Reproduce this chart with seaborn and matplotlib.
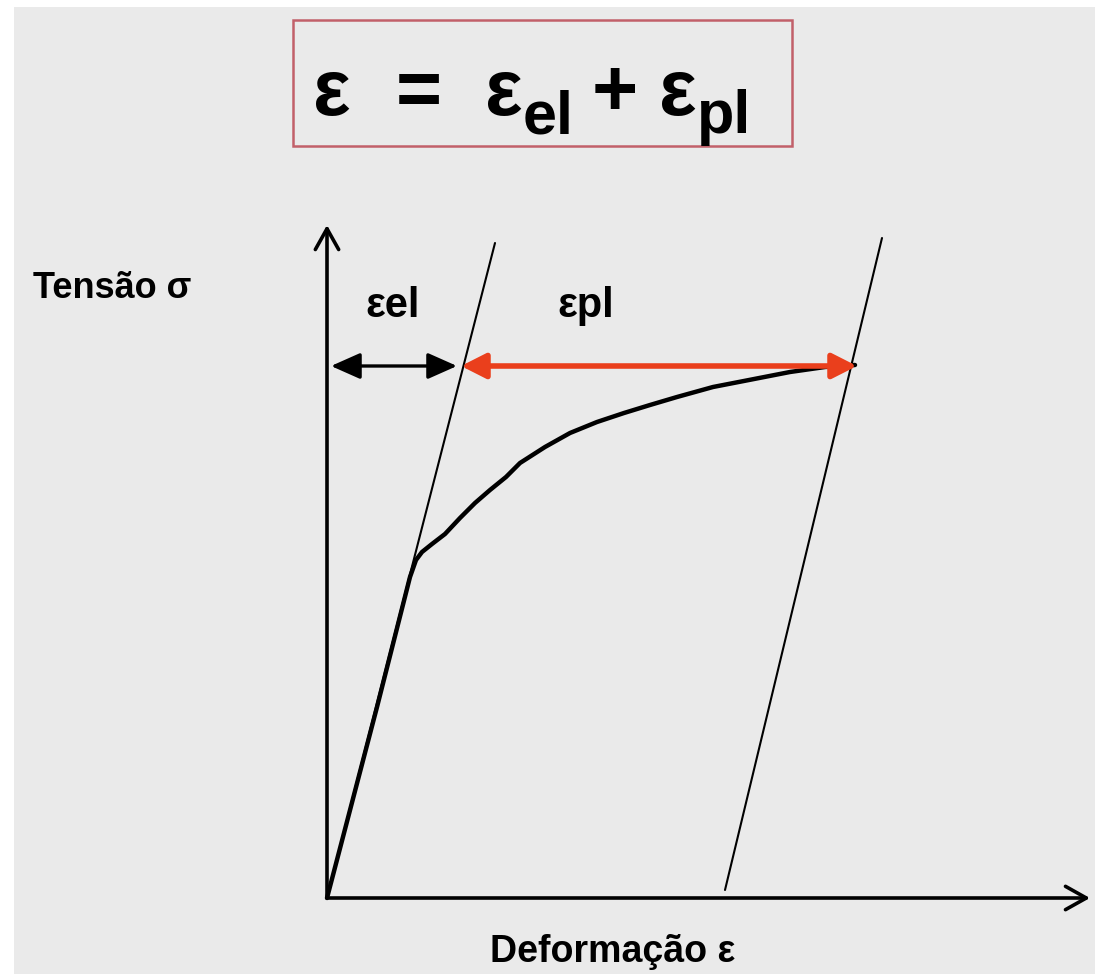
import numpy as np
import pandas as pd
import matplotlib
matplotlib.use("Agg")
import matplotlib.pyplot as plt
import seaborn as sns
from matplotlib.patches import Rectangle

# ---- data (strain / stress, arbitrary units) ----
strain_curve = [0.0, 0.50, 0.83, 0.89, 0.95, 1.05, 1.18, 1.33, 1.48, 1.63,
                1.79, 1.93, 2.18, 2.43, 2.70, 2.97, 3.23, 3.50, 3.86, 4.22,
                4.63, 4.98, 5.28]
stress_curve = [0.0, 1.91, 3.21, 3.38, 3.46, 3.54, 3.64, 3.80, 3.95, 4.08,
                4.21, 4.35, 4.51, 4.65, 4.76, 4.85, 4.93, 5.01, 5.11, 5.18,
                5.26, 5.31, 5.33]
elastic_strain = [0.0, 1.68]
elastic_stress = [0.0, 6.55]
unload_strain = [3.98, 5.55]
unload_stress = [0.08, 6.60]
sigma_level = 5.32
eps_el_span = [0.04, 1.30]
eps_pl_span = [1.34, 5.30]
x_axis_end = 7.63
y_axis_end = 6.73

ylabel_text = "Tensão σ"
xlabel_text = "Deformação ε"
el_label = "εel"
pl_label = "εpl"

sns.set_theme(style="white")
SANS = ["Liberation Sans", "DejaVu Sans"]
plt.rcParams["font.family"] = SANS
plt.rcParams["text.color"] = "black"

W, H = 1095, 974
BG = "#eaeaea"
fig = plt.figure(figsize=(W / 100, H / 100), dpi=100, facecolor="white")
ax = fig.add_axes([14 / W, 0, 1081 / W, 967 / H])
ax.set_facecolor(BG)
ax.set_xlim(-3.13, 7.68)
ax.set_ylim(-0.76, 8.91)
for s in ax.spines.values():
    s.set_visible(False)
ax.set_xticks([])
ax.set_yticks([])
ax.set_xlabel("")
ax.set_ylabel("")


def fx(px):
    return px / W


def fy(py):
    return 1 - py / H


# axes arrows
ax.annotate("", xy=(0, y_axis_end), xytext=(0, 0),
            arrowprops=dict(arrowstyle="->,head_length=0.75,head_width=0.42",
                            lw=2.6, color="black", shrinkA=0, shrinkB=0,
                            mutation_scale=20))
ax.annotate("", xy=(x_axis_end, 0), xytext=(0, 0),
            arrowprops=dict(arrowstyle="->,head_length=0.75,head_width=0.42",
                            lw=2.6, color="black", shrinkA=0, shrinkB=0,
                            mutation_scale=20))

# thin elastic lines
sns.lineplot(x=elastic_strain, y=elastic_stress, ax=ax, color="black",
             lw=1.5, estimator=None, sort=False)
sns.lineplot(x=unload_strain, y=unload_stress, ax=ax, color="black",
             lw=1.5, estimator=None, sort=False)

# stress-strain curve
curve = pd.DataFrame({"strain": strain_curve, "stress": stress_curve})
sns.lineplot(data=curve, x="strain", y="stress", ax=ax, color="black",
             lw=3.2, estimator=None, sort=False,
             solid_joinstyle="round", solid_capstyle="round")

# double arrows
ax.annotate("", xy=(eps_el_span[1], sigma_level), xytext=(eps_el_span[0], sigma_level),
            arrowprops=dict(arrowstyle="<|-|>,head_length=0.9,head_width=0.4",
                            lw=2.4, color="black", shrinkA=0, shrinkB=0,
                            mutation_scale=20))
ax.annotate("", xy=(eps_pl_span[1], sigma_level), xytext=(eps_pl_span[0], sigma_level),
            arrowprops=dict(arrowstyle="<|-|>,head_length=0.75,head_width=0.38",
                            lw=4.0, color="#ea3f1c", shrinkA=0, shrinkB=0,
                            mutation_scale=20))

# labels
fig.text(fx(33), fy(298), ylabel_text, family=SANS, weight="bold",
         fontsize=26, ha="left", va="baseline", color="black")
fig.text(fx(490), fy(962), xlabel_text, family=SANS, weight="bold",
         fontsize=27, ha="left", va="baseline", color="black")
fig.text(fx(365), fy(317), el_label, family=SANS, weight="bold",
         fontsize=30, ha="left", va="baseline", color="black")
fig.text(fx(557), fy(317), pl_label, family=SANS, weight="bold",
         fontsize=30, ha="left", va="baseline", color="black")

# formula box
box = Rectangle((fx(293), fy(146)), (792 - 293) / W, (146 - 20) / H,
                transform=fig.transFigure, facecolor="none",
                edgecolor="#c2606a", lw=1.8)
fig.add_artist(box)
main_fs = 57
sub_fs = 44
fig.text(fx(313), fy(115), "ε", family=SANS, weight="bold", fontsize=main_fs,
         ha="left", va="baseline", color="black")
fig.text(fx(396), fy(115), "=", family=SANS, weight="bold", fontsize=main_fs,
         ha="left", va="baseline", color="black")
fig.text(fx(485), fy(115), "ε", family=SANS, weight="bold", fontsize=main_fs,
         ha="left", va="baseline", color="black")
fig.text(fx(523), fy(133), "el", family=SANS, weight="bold", fontsize=sub_fs,
         ha="left", va="baseline", color="black")
fig.text(fx(592), fy(115), "+", family=SANS, weight="bold", fontsize=main_fs,
         ha="left", va="baseline", color="black")
fig.text(fx(659), fy(115), "ε", family=SANS, weight="bold", fontsize=main_fs,
         ha="left", va="baseline", color="black")
fig.text(fx(697), fy(133), "pl", family=SANS, weight="bold", fontsize=sub_fs,
         ha="left", va="baseline", color="black")

fig.savefig("out.png", dpi=100, facecolor="white")
